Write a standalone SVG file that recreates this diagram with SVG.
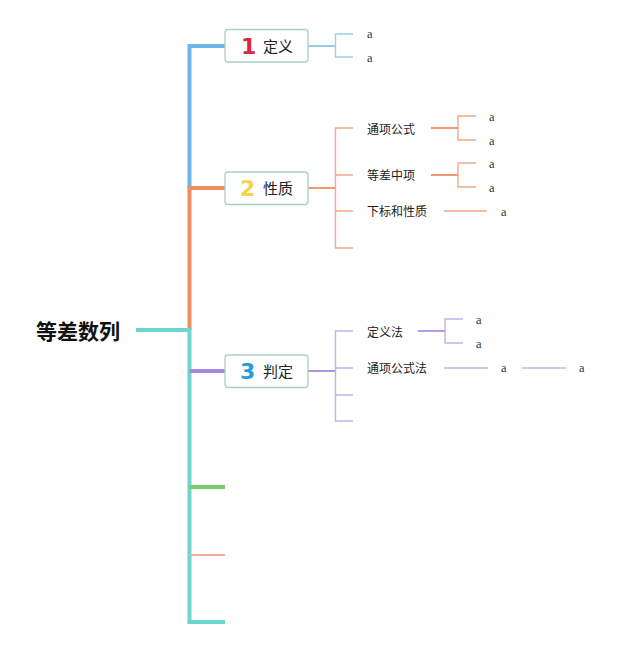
<svg xmlns="http://www.w3.org/2000/svg" width="640" height="645" viewBox="0 0 640 645">
<style>
.bg{fill:#ffffff}
.box{fill:#ffffff;stroke:#a9d0c8;stroke-width:1.3}
.num{font-family:"DejaVu Sans","Liberation Sans",sans-serif;font-weight:bold;font-size:22px}
.lbl{font-family:"Noto Sans CJK SC","Liberation Sans",sans-serif;font-size:15px;fill:#222}
.sub{font-family:"Noto Sans CJK SC","Liberation Sans",sans-serif;font-size:12px;fill:#222}
.a{font-family:"Liberation Serif",serif;font-size:12.5px;fill:#333}
.title{font-family:"Noto Sans CJK SC","Liberation Sans",sans-serif;font-size:21px;font-weight:bold;fill:#111}
.thick{fill:none;stroke-width:4}
.mid{fill:none;stroke-width:1.8}
.thin{fill:none;stroke-width:1.4}
</style>
<rect class="bg" x="0" y="0" width="640" height="645"/>
<g id="connectors">
  <path class="thick" stroke="#6cb6ea" d="M225,46 H189.5 V188"/>
  <path class="thick" stroke="#ef8c62" d="M225,188 H189.5 V330"/>
  <path class="thick" stroke="#6dd4cf" d="M136,330 H189.5 V622 H225"/>
  <path class="thick" stroke="#a38ade" d="M189.5,371 H225"/>
  <path class="thick" stroke="#79cc6b" d="M189.5,487 H225"/>
  <path fill="none" stroke="#f5a7a3" stroke-width="2" d="M189.5,555 H225"/>
  <path class="mid" stroke="#8cc6ec" d="M308,46 H335"/>
  <path class="thin" stroke="#9fcdee" d="M353,34 H335.5 V57 H353"/>
  <path class="mid" stroke="#ef8c62" d="M308,188 H335"/>
  <path class="thin" stroke="#f4a888" d="M353,128 H335.5 V248 H353 M335.5,175 H353 M335.5,211 H353"/>
  <path class="mid" stroke="#f09a76" d="M431,128 H458 M431,175 H458"/>
  <path class="thin" stroke="#f4a888" d="M476,116 H458 V140 H476 M476,163 H458 V187 H476 M444,211 H487"/>
  <path class="mid" stroke="#a38ade" d="M308,371 H335"/>
  <path class="thin" stroke="#c0b3e8" d="M353,331 H335.5 V421 H353 M335.5,368 H353 M335.5,395 H353"/>
  <path class="mid" stroke="#a994e0" d="M418,331 H445"/>
  <path class="thin" stroke="#c0b3e8" d="M463,319 H445 V343 H463 M444,368 H488 M522,368 H566"/>
</g>
<g id="root">
  <text class="title" x="36" y="339">等差数列</text>
</g>
<g id="node1">
  <rect class="box" x="225" y="29.5" width="83" height="32.5" rx="3"/>
  <text class="num" x="241" y="54" fill="#e0243a">1</text>
  <text class="lbl" x="263" y="52">定义</text>
  <text class="a" x="367" y="38">a</text>
  <text class="a" x="367" y="62">a</text>
</g>
<g id="node2">
  <rect class="box" x="225" y="172" width="83" height="32.5" rx="3"/>
  <text class="num" x="240" y="196" fill="#f4d54a">2</text>
  <text class="lbl" x="263" y="194">性质</text>
  <text class="sub" x="367" y="134">通项公式</text>
  <text class="sub" x="367" y="180">等差中项</text>
  <text class="sub" x="367" y="216">下标和性质</text>
  <text class="a" x="489" y="121">a</text>
  <text class="a" x="489" y="145">a</text>
  <text class="a" x="489" y="168">a</text>
  <text class="a" x="489" y="192">a</text>
  <text class="a" x="501" y="216">a</text>
</g>
<g id="node3">
  <rect class="box" x="225" y="355" width="83" height="32.5" rx="3"/>
  <text class="num" x="240" y="379" fill="#2a9ad8">3</text>
  <text class="lbl" x="263" y="377">判定</text>
  <text class="sub" x="367" y="337">定义法</text>
  <text class="sub" x="367" y="373">通项公式法</text>
  <text class="a" x="476" y="324">a</text>
  <text class="a" x="476" y="348">a</text>
  <text class="a" x="501" y="372">a</text>
  <text class="a" x="579" y="372">a</text>
</g>
</svg>
